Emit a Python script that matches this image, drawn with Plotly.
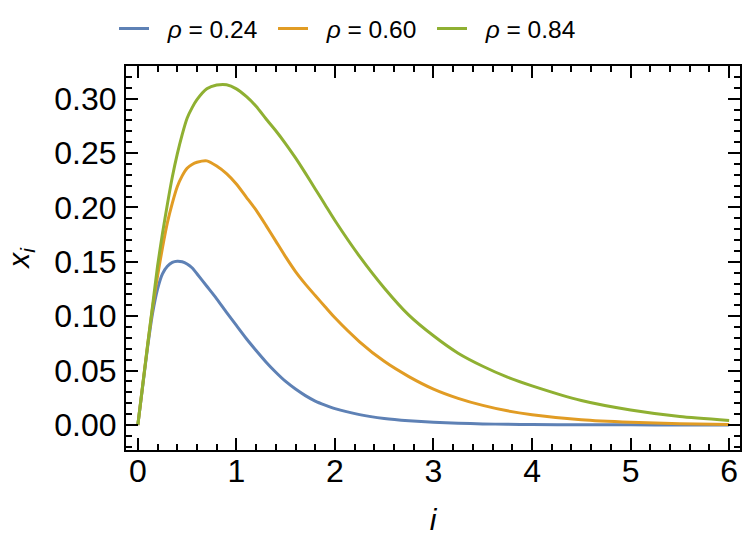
import plotly.graph_objects as go

# values
i_vals = [0, 0.05, 0.1, 0.15, 0.2, 0.25, 0.3, 0.35, 0.4, 0.45, 0.5, 0.55,
          0.6, 0.7, 0.8, 0.9, 1.0, 1.1, 1.2, 1.3, 1.4, 1.5, 1.6, 1.7, 1.8, 1.9, 2.0,
          2.25, 2.5, 2.75, 3.0, 3.25, 3.5, 3.75, 4.0,
          4.5, 5.0, 5.5, 6.0]

x_rho_024 = [0, 0.036, 0.072, 0.103, 0.125, 0.139, 0.146, 0.1495, 0.1505, 0.150, 0.148, 0.1445,
             0.139, 0.1275, 0.116, 0.1035, 0.0915, 0.0795, 0.0685, 0.058, 0.0485, 0.040,
             0.033, 0.027, 0.022, 0.0183, 0.015,
             0.0095, 0.006, 0.0039, 0.0025, 0.0016, 0.001, 0.0006, 0.0004,
             0.0002, 0.0001, 0.0, 0.0]

x_rho_060 = [0, 0.037, 0.074, 0.108, 0.137, 0.163, 0.186, 0.204, 0.219, 0.229, 0.236, 0.2395,
             0.2415, 0.2428, 0.238, 0.231, 0.2215, 0.2095, 0.1975, 0.1835, 0.169, 0.1545,
             0.141, 0.1295, 0.119, 0.1087, 0.0985,
             0.0765, 0.0585, 0.0445, 0.033, 0.0245, 0.018, 0.013, 0.0095,
             0.0048, 0.0025, 0.0012, 0.0005]

x_rho_084 = [0, 0.037, 0.074, 0.110, 0.146, 0.176, 0.203, 0.228, 0.249, 0.267, 0.282, 0.2915,
             0.299, 0.309, 0.3125, 0.3128, 0.309, 0.302, 0.293, 0.2815, 0.2705, 0.2585,
             0.2455, 0.2315, 0.217, 0.2025, 0.188,
             0.155, 0.126, 0.101, 0.082, 0.066, 0.054, 0.044, 0.036,
             0.0225, 0.0138, 0.0078, 0.0042]

series = [
    ("<i>ρ</i> = 0.24", x_rho_024, "#5E81B5"),
    ("<i>ρ</i> = 0.60", x_rho_060, "#E19C24"),
    ("<i>ρ</i> = 0.84", x_rho_084, "#8FB032"),
]

FONT = "Liberation Sans, Arial, sans-serif"
NBSP = "\u00a0\u00a0"
X_RANGE = [-0.12, 6.11]
Y_RANGE = [-0.023, 0.33]

fig = go.Figure()
for name, ys, color in series:
    fig.add_trace(go.Scatter(
        x=i_vals, y=ys, name=NBSP + name, mode="lines",
        line=dict(color=color, width=3, shape="spline", smoothing=0.6),
    ))

fig.update_layout(
    width=753, height=543,
    margin=dict(l=126, r=13, t=66, b=93, autoexpand=False),
    paper_bgcolor="white", plot_bgcolor="white",
    font=dict(family=FONT, color="black", size=32),
    showlegend=True,
    legend=dict(
        orientation="h", x=-0.0195, xanchor="left", y=1.156, yanchor="top",
        entrywidth=114, entrywidthmode="pixels",
        font=dict(size=24.5, color="black"),
    ),
)

axis_common = dict(
    showgrid=False, zeroline=False,
    showline=True, linecolor="black", linewidth=2, mirror="ticks",
    ticks="inside", ticklen=12, tickwidth=2, tickcolor="#000000",
    tickfont=dict(size=32, color="black"),
)

fig.update_layout(
    xaxis=dict(
        range=X_RANGE, tick0=0, dtick=1, ticklabelstandoff=-8,
        title=dict(text="<i>i</i>", font=dict(size=30), standoff=21),
        **axis_common,
    ),
    yaxis=dict(
        range=Y_RANGE, tick0=0, dtick=0.05, tickformat=".2f", ticklabelstandoff=1,
        title=dict(text="<i>x</i><sub><i>i</i></sub>", font=dict(size=30), standoff=16),
        **axis_common,
    ),
    # overlay axes that only carry the small (minor) ticks
    xaxis2=dict(
        overlaying="x", anchor="y", side="bottom", range=X_RANGE,
        tick0=0, dtick=0.2, showticklabels=False, showgrid=False, zeroline=False,
        showline=False, mirror="ticks", ticks="inside", ticklen=6, tickwidth=1.5,
        tickcolor="#000000",
    ),
    yaxis2=dict(
        overlaying="y", anchor="x", side="left", range=Y_RANGE,
        tick0=0, dtick=0.01, showticklabels=False, showgrid=False, zeroline=False,
        showline=False, mirror="ticks", ticks="inside", ticklen=6, tickwidth=1.5,
        tickcolor="#000000",
    ),
)

# invisible helper trace so the overlay axes get drawn
fig.add_trace(go.Scatter(
    x=[X_RANGE[0]], y=[Y_RANGE[0]], xaxis="x2", yaxis="y2",
    mode="markers", marker=dict(opacity=0), showlegend=False, hoverinfo="skip",
))

fig.write_html(
    "out.html",
    config={"displayModeBar": False},
    post_script="document.body.style.margin='0px';",
)
